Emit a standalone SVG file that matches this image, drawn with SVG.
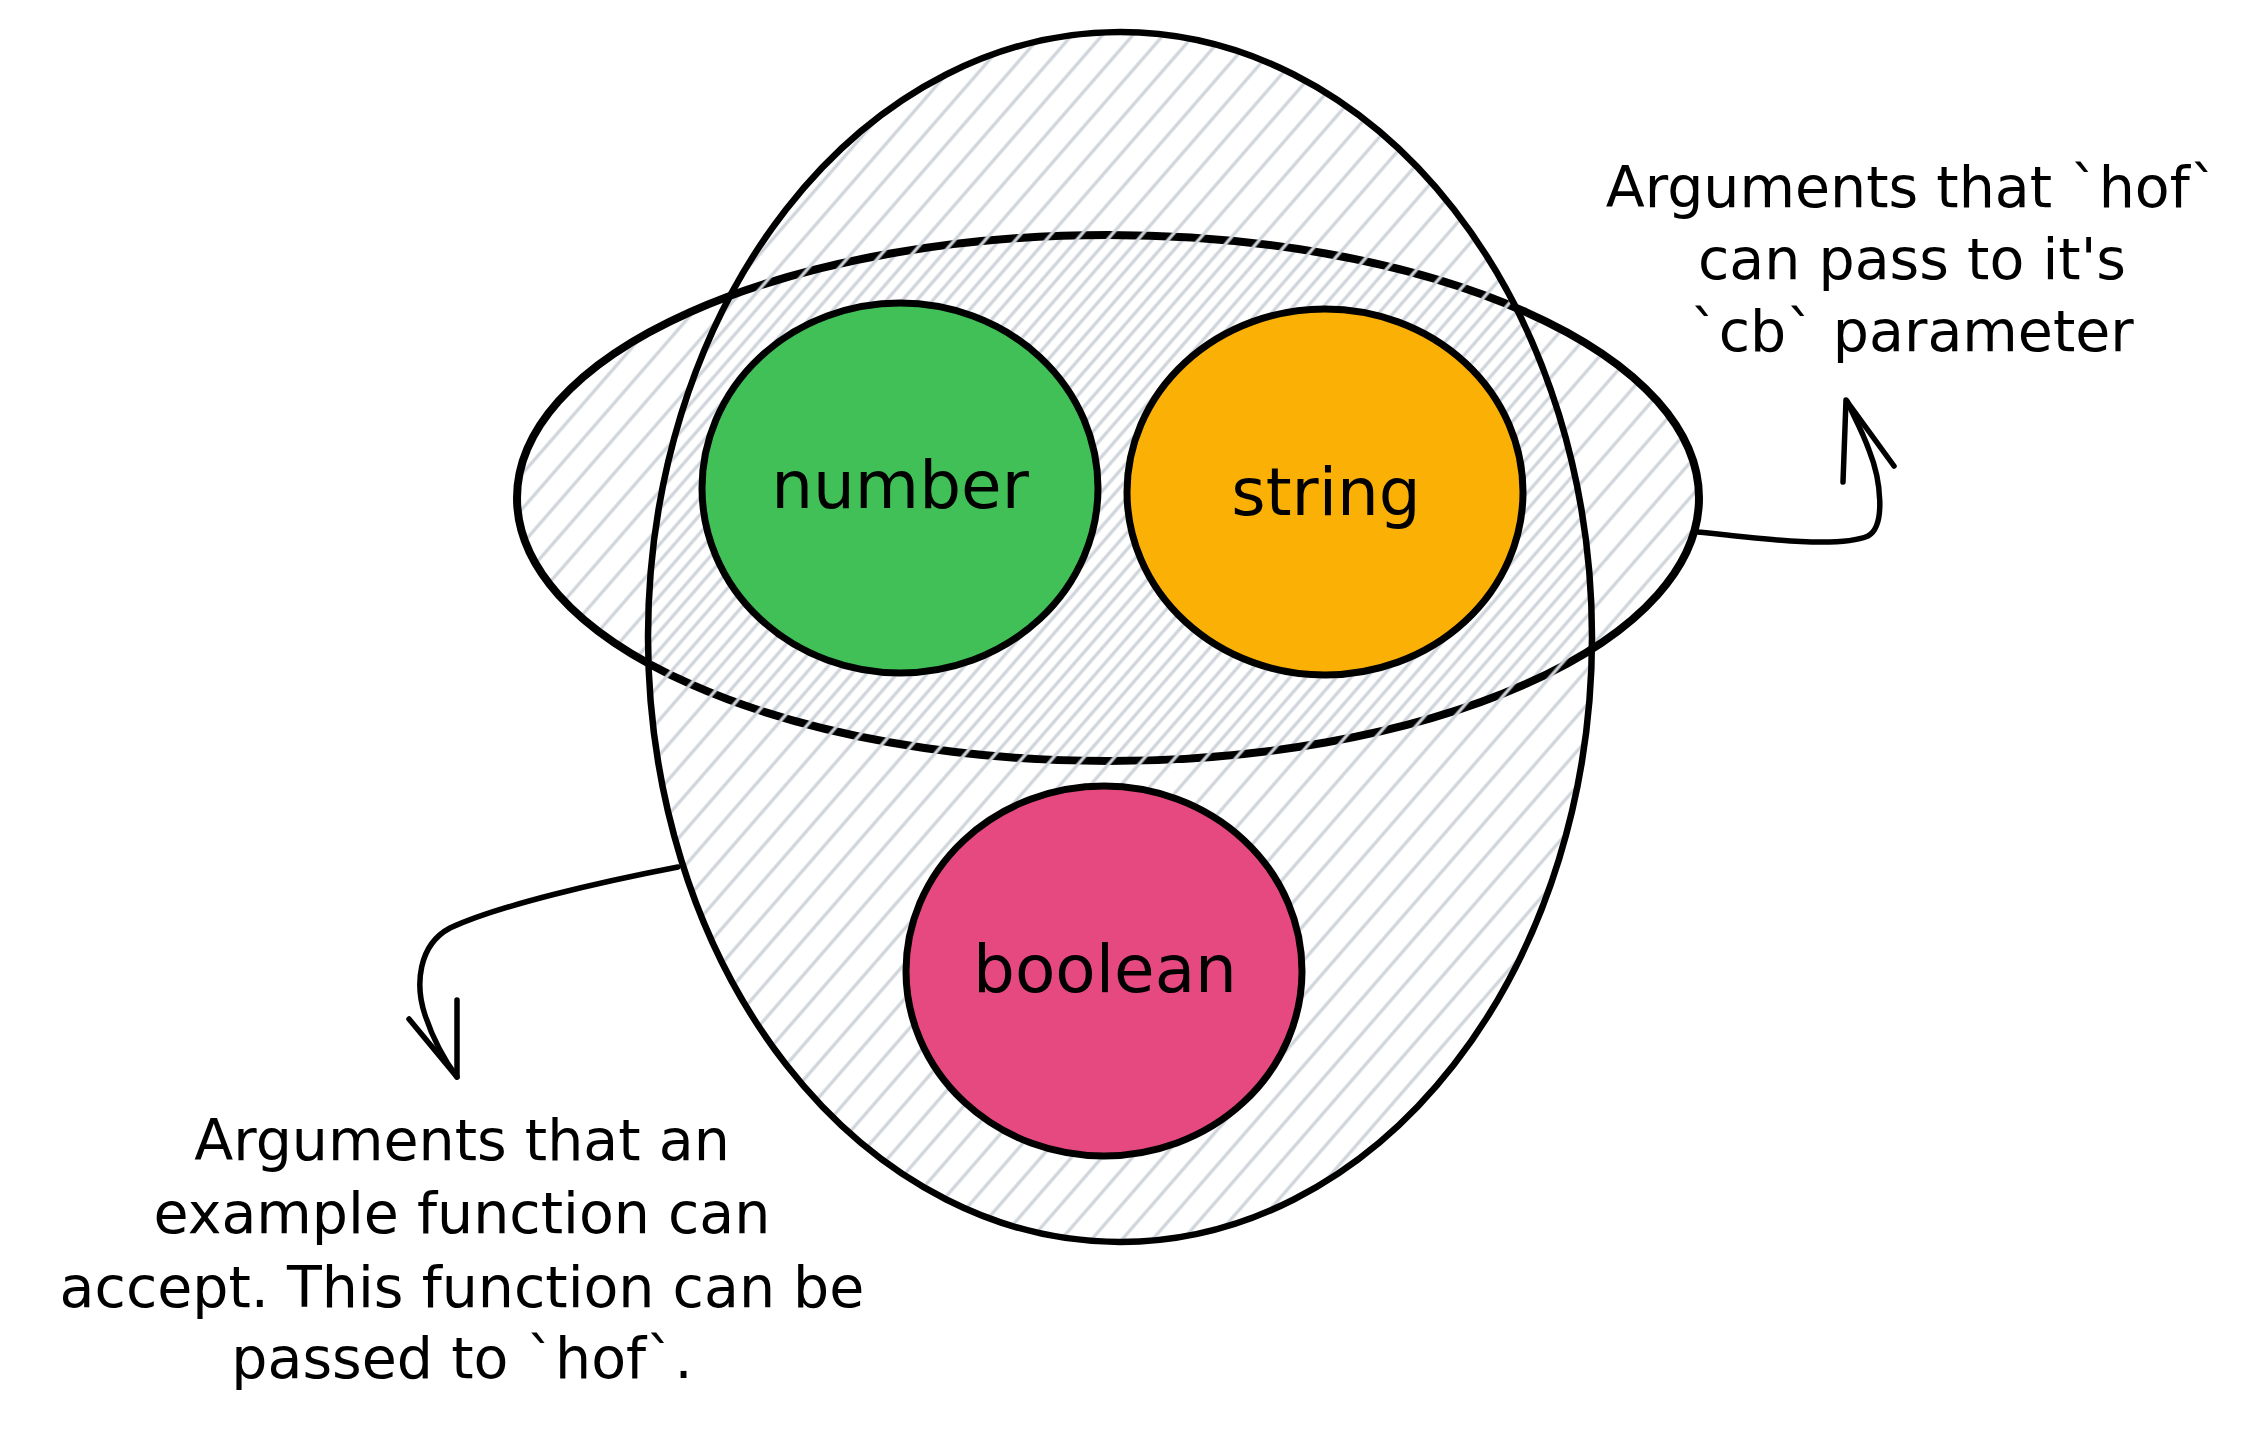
<svg xmlns="http://www.w3.org/2000/svg" width="2262" height="1431" viewBox="0 0 2262 1431">
  <style>
    .outline { stroke: #000; stroke-linecap: round; stroke-linejoin: round; }
    .label { font-family: "DejaVu Sans", "Liberation Sans", sans-serif; font-size: 66px; fill: #000; text-anchor: middle; }
    .note { font-family: "DejaVu Sans", "Liberation Sans", sans-serif; font-size: 57px; fill: #000; text-anchor: middle; }
    .conn { fill: none; stroke: #000; stroke-width: 5.5; stroke-linecap: round; stroke-linejoin: round; }
  </style>
  <defs>
    <pattern id="hatchA" patternUnits="userSpaceOnUse" width="23" height="40" patternTransform="rotate(41)">
      <line x1="4" y1="0" x2="4" y2="40" stroke="#ced4da" stroke-width="3.2"/>
    </pattern>
    <pattern id="hatchB" patternUnits="userSpaceOnUse" width="23" height="40" patternTransform="rotate(41) translate(11 0)">
      <line x1="4" y1="0" x2="4" y2="40" stroke="#ced4da" stroke-width="3.2"/>
    </pattern>
  </defs>
  <rect width="2262" height="1431" fill="#ffffff"/>

  <g id="callback-args">
    <ellipse cx="1108" cy="498" rx="591" ry="263" fill="url(#hatchB)" class="outline" stroke-width="8"/>
  </g>
  <g id="example-args">
    <ellipse cx="1120" cy="637" rx="472" ry="605" fill="url(#hatchA)" class="outline" stroke-width="6.5"/>
  </g>

  <g id="number">
    <ellipse cx="900" cy="488" rx="198" ry="185" fill="#40c057" class="outline" stroke-width="7"/>
    <text class="label" x="900" y="508">number</text>
  </g>
  <g id="string">
    <ellipse cx="1325" cy="492" rx="198" ry="183" fill="#fab005" class="outline" stroke-width="7"/>
    <text class="label" x="1326" y="515">string</text>
  </g>
  <g id="boolean">
    <ellipse cx="1104" cy="971" rx="198" ry="185" fill="#e64980" class="outline" stroke-width="7"/>
    <text class="label" x="1105" y="992">boolean</text>
  </g>

  <g id="note-hof">
    <text class="note" x="1912" y="207">Arguments that `hof`</text>
    <text class="note" x="1912" y="279">can pass to it's</text>
    <text class="note" x="1912" y="351">`cb` parameter</text>
  </g>
  <g id="note-example">
    <text class="note" x="462" y="1160">Arguments that an</text>
    <text class="note" x="462" y="1233">example function can</text>
    <text class="note" x="462" y="1307">accept. This function can be</text>
    <text class="note" x="462" y="1378">passed to `hof`.</text>
  </g>

  <g id="connectors">
    <path class="conn" d="M1698 532 C1770 540 1840 548 1868 536 C1886 526 1881 480 1869 450 C1861 428 1853 415 1847 401"/>
    <path class="conn" d="M1843 482 L1846 400 L1894 466"/>
    <path class="conn" d="M678 867 C600 882 500 905 450 928 C418 945 415 985 425 1015 C435 1045 448 1065 457 1077"/>
    <path class="conn" d="M457 1000 L457 1077 L409 1019"/>
  </g>
</svg>
